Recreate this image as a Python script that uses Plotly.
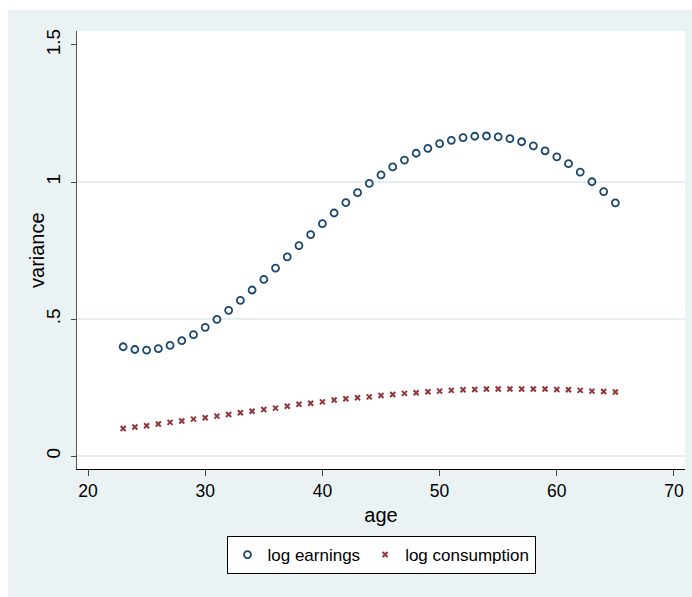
import plotly.graph_objects as go

ages = list(range(23, 66))
log_earnings = [0.399, 0.389, 0.387, 0.392, 0.404, 0.421, 0.443, 0.470, 0.499, 0.532,
                0.568, 0.606, 0.645, 0.686, 0.727, 0.768, 0.808, 0.848, 0.887, 0.925,
                0.961, 0.995, 1.026, 1.055, 1.080, 1.105, 1.123, 1.140, 1.152, 1.162,
                1.167, 1.168, 1.165, 1.158, 1.147, 1.132, 1.114, 1.092, 1.067, 1.036,
                1.001, 0.965, 0.924]
log_consumption = [0.101, 0.106, 0.111, 0.117, 0.123, 0.128, 0.135, 0.140, 0.146, 0.152,
                   0.158, 0.164, 0.170, 0.175, 0.182, 0.189, 0.193, 0.198, 0.205, 0.209,
                   0.213, 0.216, 0.221, 0.225, 0.229, 0.231, 0.235, 0.237, 0.240, 0.242,
                   0.243, 0.245, 0.245, 0.245, 0.245, 0.245, 0.245, 0.243, 0.242, 0.240,
                   0.237, 0.236, 0.234]
x_ticks = [20, 30, 40, 50, 60, 70]
y_ticks = [0, 0.5, 1, 1.5]
y_ticktext = ["0", ".5", "1", "1.5"]

FONT = "Liberation Sans, Arial, Helvetica, sans-serif"
NAVY = "#1a476f"
MAROON = "#90353b"
BG = "#eaf2f3"

fig = go.Figure()
fig.add_trace(go.Scatter(
    x=ages, y=log_earnings, mode="markers", name="log earnings",
    marker=dict(symbol="circle-open", size=7, color=NAVY, line=dict(width=1.8, color=NAVY)),
))
fig.add_trace(go.Scatter(
    x=ages, y=log_consumption, mode="markers", name="log consumption",
    marker=dict(symbol="x-thin-open", size=5, color=MAROON, line=dict(width=2, color=MAROON)),
))

# horizontal grid lines (Stata draws none at the top tick)
for v in y_ticks[:-1]:
    fig.add_shape(type="line", xref="x domain", yref="y", x0=0, x1=1, y0=v, y1=v,
                  line=dict(color="#e6eef1", width=2), layer="below")

# white strips outside the grey graph region (top and left)
fig.add_shape(type="rect", xref="paper", yref="paper", x0=-0.2, x1=-0.1135, y0=-0.4, y1=1.2,
              fillcolor="white", line=dict(width=0), layer="below")
fig.add_shape(type="rect", xref="paper", yref="paper", x0=-0.2, x1=1.2, y0=1.048, y1=1.2,
              fillcolor="white", line=dict(width=0), layer="below")

# y-axis title placed like Stata's
fig.add_annotation(text="variance", xref="paper", yref="paper", x=-0.0658, y=0.5,
                   xanchor="center", yanchor="middle", textangle=-90, showarrow=False,
                   font=dict(family=FONT, size=20))

fig.update_layout(
    width=692, height=597,
    margin=dict(l=77, r=7, t=31, b=128),
    paper_bgcolor=BG, plot_bgcolor="white",
    font=dict(family=FONT, size=17, color="black"),
    showlegend=True,
    legend=dict(orientation="h", x=0.5, xanchor="center", y=-0.153, yanchor="top",
                bgcolor="white", bordercolor="black", borderwidth=1,
                font=dict(family=FONT, size=17), itemwidth=30, tracegroupgap=0),
    xaxis=dict(range=[19.06, 70.94], tickvals=x_ticks, ticks="outside", ticklen=6,
               tickcolor="#444", showline=True, linecolor="black", linewidth=1.2,
               showgrid=False, zeroline=False, title=dict(text="age", standoff=7),
               tickfont=dict(size=17.5)),
    yaxis=dict(range=[-0.047, 1.551], tickvals=y_ticks, ticktext=y_ticktext, ticks="outside",
               ticklen=5, tickcolor="#444", tickangle=-90, showline=True, linecolor="#555",
               linewidth=1.2, showgrid=False, zeroline=False, ticklabelstandoff=3,
               tickfont=dict(size=19)),
)

fig.write_html("out.html")
